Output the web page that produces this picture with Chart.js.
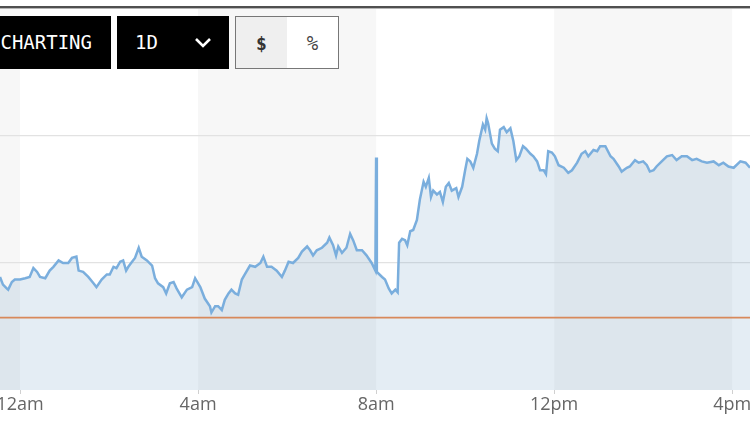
<!DOCTYPE html>
<html>
<head>
<meta charset="utf-8">
<script src="https://cdn.jsdelivr.net/npm/chart.js@4.4.1/dist/chart.umd.min.js"></script>
<style>
  html, body { margin:0; padding:0; background:#fff; width:750px; height:443px; overflow:hidden; }
  #topline { position:absolute; left:0; top:6px; width:750px; height:2px; background:#505050; border-bottom:1px solid #b5b5b5; z-index:3; }
  #wrap { position:absolute; left:0; top:9px; width:750px; height:434px; }
  .btn { position:absolute; top:16px; height:53px; box-sizing:border-box; z-index:4;
         font-family:"DejaVu Sans Mono", monospace; line-height:53px; }
  #b1 { left:-12px; width:123px; background:#000; color:#fff; font-size:19px; text-align:right; padding-right:19px; }
  #b2 { left:117px; width:112px; background:#000; color:#fff; font-size:19px; padding-left:18px; }
  #b2 svg { position:absolute; left:76px; top:20px; }
  #b3 { left:235px; width:53px; background:#efefef; border:1.5px solid #777; color:#333; font-size:18px; font-weight:bold; text-align:center; }
  #b4 { left:287px; width:52px; background:#fff; border:1.5px solid #777; border-left:none; color:#444; font-size:19px; text-align:center; }
</style>
</head>
<body>
<div id="topline"></div>
<div class="btn" id="b1">CHARTING</div>
<div class="btn" id="b2">1D<svg width="20" height="14" viewBox="0 0 20 14"><polyline points="3,3 10,10 17,3" fill="none" stroke="#fff" stroke-width="2.6"/></svg></div>
<div class="btn" id="b3">$</div>
<div class="btn" id="b4">%</div>
<div id="wrap"><canvas id="c"></canvas></div>
<script>
// ---- data (time in minutes from midnight, price) ----
const times = [-27,-23,-18,-16,-11,-7,0,7,13,18,23,27,34,40,45,52,58,65,70,76,79,85,92,99,103,110,117,121,126,130,135,139,143,146,151,155,160,164,171,178,182,186,193,197,202,207,211,218,225,232,236,243,249,256,258,263,267,272,276,281,285,290,294,299,303,310,317,324,328,333,339,346,353,357,362,368,375,380,387,391,395,400,407,414,417,422,426,429,434,440,445,449,454,461,467,474,479,480,481,488,492,497,501,506,509,511,515,519,522,526,530,535,539,544,547,551,554,557,562,566,570,574,578,582,588,591,596,600,603,607,611,616,619,624,627,629,631,636,640,644,647,652,656,661,665,669,673,678,682,688,692,697,701,706,709,712,717,721,726,733,739,744,751,757,762,766,773,778,782,789,796,800,807,811,818,822,829,834,840,845,849,854,858,865,872,879,885,892,899,906,912,919,926,935,942,948,955,962,971,978,984];
const prices = [98.89,98.83,98.80,98.79,98.85,98.87,98.87,98.88,98.89,98.96,98.93,98.89,98.88,98.94,98.97,99.02,99.00,99.00,99.04,99.05,98.94,98.93,98.89,98.84,98.81,98.87,98.91,98.91,98.97,98.96,99.01,99.02,98.94,98.97,99.01,99.04,99.12,99.05,99.02,98.98,98.88,98.84,98.81,98.76,98.84,98.85,98.80,98.73,98.79,98.81,98.88,98.81,98.72,98.66,98.61,98.66,98.66,98.63,98.71,98.76,98.79,98.76,98.75,98.87,98.91,98.98,98.97,99.00,99.05,98.97,98.97,98.94,98.89,98.94,99.01,99.00,99.04,99.09,99.13,99.10,99.06,99.10,99.12,99.16,99.20,99.14,99.06,99.13,99.08,99.12,99.23,99.18,99.10,99.10,99.06,99.00,98.94,99.83,98.93,98.89,98.87,98.80,98.76,98.79,98.77,99.16,99.19,99.18,99.14,99.25,99.26,99.34,99.50,99.64,99.60,99.67,99.52,99.57,99.54,99.56,99.48,99.60,99.63,99.57,99.59,99.52,99.60,99.73,99.82,99.80,99.75,99.86,99.96,100.09,100.05,100.14,100.10,99.94,99.90,99.88,100.05,100.07,100.03,100.06,99.96,99.81,99.84,99.92,99.90,99.86,99.84,99.80,99.73,99.73,99.70,99.88,99.87,99.84,99.77,99.75,99.71,99.73,99.79,99.86,99.88,99.84,99.89,99.88,99.92,99.92,99.84,99.82,99.76,99.72,99.75,99.76,99.81,99.79,99.80,99.77,99.72,99.73,99.76,99.80,99.84,99.85,99.81,99.84,99.84,99.81,99.82,99.80,99.79,99.80,99.77,99.79,99.76,99.75,99.80,99.79,99.75];
const prevClose = 98.57;
const tickValues = [0, 240, 480, 720, 960];
const tickLabels = ["12am", "4am", "8am", "12pm", "4pm"];
const gridValues = [99, 100];
const shadedBands = [[-240, 0], [240, 480], [720, 960]];
const xRange = [-27, 984];
const yRange = [98, 101];

const bandPlugin = {
  id: 'bands',
  beforeDraw(chart) {
    const { ctx, chartArea: a, scales: { x } } = chart;
    ctx.save();
    ctx.fillStyle = '#f7f7f7';
    shadedBands.forEach(([s, e]) => {
      const l = Math.max(a.left, x.getPixelForValue(s));
      const r = Math.min(a.right, x.getPixelForValue(e));
      if (r > l) ctx.fillRect(l, a.top, r - l, a.bottom - a.top);
    });
    ctx.restore();
  }
};

new Chart(document.getElementById('c'), {
  type: 'line',
  data: {
    datasets: [
      {
        data: [{ x: xRange[0], y: prevClose }, { x: xRange[1], y: prevClose }],
        borderColor: '#d8895b', borderWidth: 1.6, pointRadius: 0, fill: false
      },
      {
        data: times.map((t, i) => ({ x: t, y: prices[i] })),
        borderColor: '#7aaedd', borderWidth: 2.5, pointRadius: 0, tension: 0,
        fill: 'start', backgroundColor: 'rgba(120,165,200,0.2)'
      }
    ]
  },
  options: {
    responsive: true, maintainAspectRatio: false, animation: false,
    layout: { padding: 0 },
    plugins: { legend: { display: false }, tooltip: { enabled: false } },
    scales: {
      x: {
        type: 'linear', min: xRange[0], max: xRange[1],
        afterBuildTicks(s) { s.ticks = tickValues.map(v => ({ value: v })); },
        afterFit(s) { s.height = 53; s.paddingLeft = 0; s.paddingRight = 0; },
        ticks: {
          autoSkip: false, maxRotation: 0, padding: 0, color: '#666',
          font: { family: "'Open Sans'", size: 18 },
          callback(v) { const i = tickValues.indexOf(v); return i >= 0 ? tickLabels[i] : ''; }
        },
        grid: { drawOnChartArea: false, drawTicks: true, tickLength: 4, tickColor: '#d0d0d0' },
        border: { display: false }
      },
      y: {
        min: yRange[0], max: yRange[1],
        afterBuildTicks(s) { s.ticks = gridValues.map(v => ({ value: v })); },
        afterFit(s) { s.width = 0; },
        ticks: { display: false },
        grid: { color: '#e2e2e2', lineWidth: 1.2, drawTicks: false },
        border: { display: false }
      }
    }
  },
  plugins: [bandPlugin]
});
</script>
</body>
</html>
